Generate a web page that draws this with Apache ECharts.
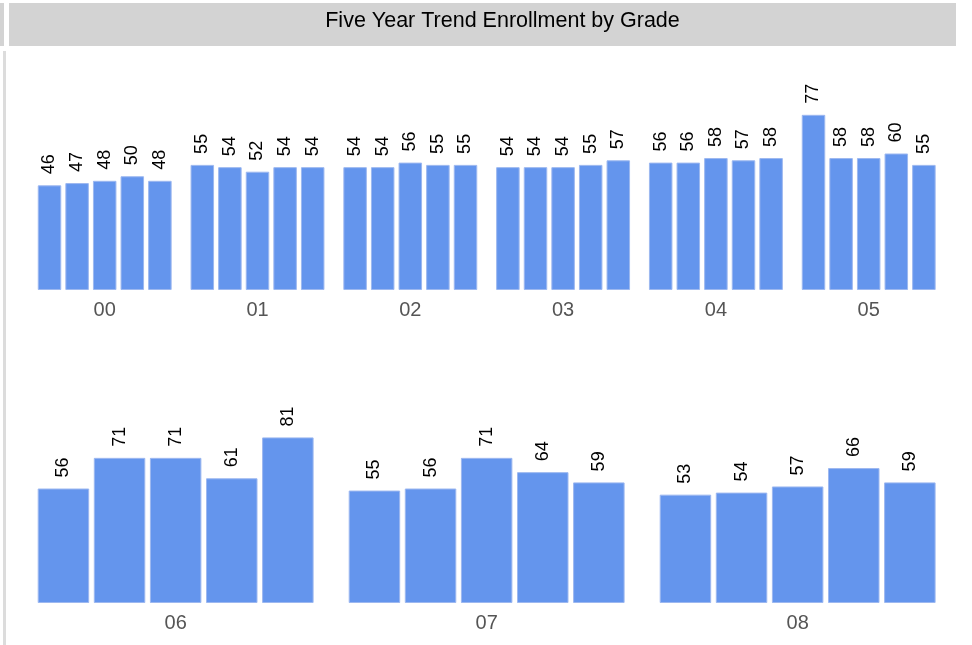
<!DOCTYPE html>
<html>
<head>
<meta charset="utf-8">
<script src="https://cdn.jsdelivr.net/npm/echarts@6/dist/echarts.min.js"></script>
<style>html,body{margin:0;padding:0;background:#fff}#c{width:972px;height:645px}</style>
</head>
<body>
<div id="c"></div>
<script>
const years = ['Y1', 'Y2', 'Y3', 'Y4', 'Y5'];
const grades = ['00', '01', '02', '03', '04', '05', '06', '07', '08'];
const g00 = [46, 47, 48, 50, 48];
const g01 = [55, 54, 52, 54, 54];
const g02 = [54, 54, 56, 55, 55];
const g03 = [54, 54, 54, 55, 57];
const g04 = [56, 56, 58, 57, 58];
const g05 = [77, 58, 58, 60, 55];
const g06 = [56, 71, 71, 61, 81];
const g07 = [55, 56, 71, 64, 59];
const g08 = [53, 54, 57, 66, 59];
const values = [g00, g01, g02, g03, g04, g05, g06, g07, g08];

const chart = echarts.init(document.getElementById('c'), null, {renderer: 'canvas'});
const grids = [], xAxes = [], yAxes = [], series = [];
grades.forEach((g, i) => {
  const row1 = i < 6;
  const col = row1 ? i : i - 6;
  const left = row1 ? 35.7 + col * 152.8 : 35.4 + col * 311;
  const width = row1 ? 138 : 280.5;
  const top = row1 ? 108 : 419;
  const height = row1 ? 182 : 184;
  grids.push({left: left, top: top, width: width, height: height, containLabel: false});
  xAxes.push({
    type: 'category', gridIndex: i, data: years,
    axisLine: {show: false}, axisTick: {show: false}, axisLabel: {show: false},
    name: g, nameLocation: 'middle', nameGap: 10,
    nameTextStyle: {fontSize: 20, color: '#555555', fontFamily: 'Liberation Sans', verticalAlign: 'top'}
  });
  yAxes.push({
    type: 'value', gridIndex: i, min: 0, max: row1 ? 80 : 90, show: false,
    splitLine: {show: false}
  });
  series.push({
    type: 'bar', xAxisIndex: i, yAxisIndex: i, data: values[i],
    barWidth: row1 ? 23.5 : 51.5,
    itemStyle: {color: '#6495ED', borderColor: '#9db8f0', borderWidth: 1},
    label: {
      show: true, position: 'top', rotate: 90, align: 'left', verticalAlign: 'middle',
      distance: 11, fontSize: 18, color: '#000', fontFamily: 'Liberation Sans'
    },
    silent: true, animation: false
  });
});

chart.setOption({
  animation: false,
  grid: grids, xAxis: xAxes, yAxis: yAxes, series: series,
  graphic: [
    {type: 'rect', shape: {x: 0, y: 3, width: 4, height: 43}, style: {fill: '#d3d3d3'}},
    {type: 'rect', shape: {x: 9, y: 3, width: 947, height: 43}, style: {fill: '#d3d3d3'}},
    {type: 'rect', shape: {x: 3, y: 51, width: 3, height: 600}, style: {fill: '#dcdcdc'}},
    {type: 'text', x: 502.5, y: 21.5, style: {text: 'Five Year Trend Enrollment by Grade', fontSize: 21.5,
      fontFamily: 'Liberation Sans', fill: '#000', textAlign: 'center', textVerticalAlign: 'middle'}}
  ]
});
</script>
</body>
</html>
